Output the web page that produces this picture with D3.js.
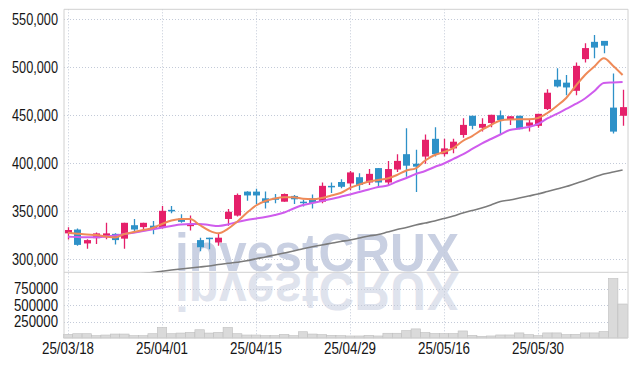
<!DOCTYPE html>
<html>
<head>
<meta charset="utf-8">
<script src="https://cdn.jsdelivr.net/npm/d3@7"></script>
<style>
  body { margin: 0; background: #fff; }
  text { font-family: 'Liberation Sans Narrow', 'Liberation Sans', sans-serif; }
</style>
</head>
<body>
<div id="container"></div>
<script>
const dates = [
  '25/03/18','25/03/19','25/03/20','25/03/21','25/03/24','25/03/25','25/03/26','25/03/27','25/03/28','25/03/31',
  '25/04/01','25/04/02','25/04/03','25/04/04','25/04/07','25/04/08','25/04/09','25/04/10','25/04/11','25/04/14',
  '25/04/15','25/04/16','25/04/17','25/04/18','25/04/21','25/04/22','25/04/23','25/04/24','25/04/25','25/04/28',
  '25/04/29','25/04/30','25/05/02','25/05/07','25/05/08','25/05/09','25/05/12','25/05/13','25/05/14','25/05/15',
  '25/05/16','25/05/19','25/05/20','25/05/21','25/05/22','25/05/23','25/05/26','25/05/27','25/05/28','25/05/29',
  '25/05/30','25/06/02','25/06/04','25/06/05','25/06/09','25/06/10','25/06/11','25/06/12','25/06/13','25/06/16'
];
const open = [
  327000, 331000, 316500, 322000, 323000, 326500, 321500, 335500, 333500, 335000,
  332500, 351500, 342500, 334500, 320000, 322500, 317500, 342000, 345500, 370500,
  370500, 363500, 364000, 360000, 366000, 360000, 363500, 360000, 376500, 380500,
  379000, 385500, 380000, 395000, 380000, 393500, 409500, 399500, 407000, 425500,
  409500, 415500, 429500, 449500, 437000, 442000, 450000, 445500, 449500, 439000,
  439000, 456500, 487000, 484000, 475500, 508500, 526500, 527500, 458000, 449500
];
const high = [
  333300, 332000, 321000, 328000, 338000, 327000, 338000, 342000, 338000, 340000,
  355500, 355500, 347000, 345500, 322500, 322500, 327500, 352500, 368500, 371000,
  373500, 370500, 368000, 368500, 367000, 362000, 367500, 380000, 380000, 383500,
  392000, 389500, 394000, 395000, 402500, 409500, 436500, 414000, 430000, 437500,
  425500, 425500, 447000, 449500, 447000, 450500, 455000, 449000, 449500, 445000,
  451500, 477000, 499000, 492000, 505000, 525000, 533500, 527500, 493500, 476500
];
const low = [
  320500, 314000, 311000, 316000, 321000, 315500, 311000, 328000, 329500, 326000,
  332000, 348000, 338000, 330000, 308500, 310500, 314000, 335000, 344500, 361000,
  357500, 353000, 358500, 360000, 357500, 355000, 353000, 358500, 369000, 374000,
  372000, 372000, 377500, 375500, 377500, 391000, 386000, 370000, 399500, 407000,
  407000, 410500, 426500, 435500, 433000, 437500, 429500, 440000, 435500, 433000,
  437000, 455500, 479000, 471000, 471000, 505000, 509500, 514500, 431000, 439000
];
const close = [
  330500, 315000, 320000, 327000, 327000, 320000, 338000, 331000, 338000, 332500,
  350500, 350000, 339000, 337000, 312500, 321000, 322500, 349500, 367000, 366500,
  366500, 359000, 362000, 368000, 362500, 358500, 358500, 376500, 375000, 375500,
  390500, 377500, 389000, 380000, 394000, 402500, 397500, 396500, 424500, 409500,
  415500, 422500, 440000, 439000, 441000, 450500, 445000, 449000, 435500, 442500,
  451500, 473500, 480000, 479000, 501500, 520000, 520500, 522500, 433000, 458500
];
const volume = [
  55000, 65000, 65000, 35000, 45000, 60000, 60000, 35000, 35000, 65000,
  160000, 65000, 75000, 85000, 125000, 75000, 85000, 160000, 65000, 45000,
  45000, 35000, 35000, 55000, 35000, 95000, 60000, 51000, 41000, 36000,
  31000, 31000, 41000, 31000, 72000, 72000, 112000, 138000, 82000, 67000,
  67000, 67000, 107000, 41000, 26000, 31000, 46000, 46000, 77000, 51000,
  36000, 77000, 77000, 51000, 56000, 77000, 77000, 97000, 900000, 515000
];
const ma5 = [
  327700, 326700, 325800, 325300, 323700, 322700, 326300, 328400, 330500, 332600,
  336800, 340400, 342000, 342000, 335700, 330000, 327100, 331600, 339200, 348200,
  356000, 360700, 363300, 364600, 364600, 363000, 362500, 363800, 366500, 369100,
  374300, 377900, 381000, 382600, 384200, 387800, 392500, 394800, 402900, 408600,
  411800, 415900, 423200, 428400, 434700, 439900, 444600, 445600, 445800, 445800,
  447200, 452400, 459700, 468000, 480500, 492000, 500800, 509400, 501400, 492000
];
const ma20 = [
  323500, 323200, 322900, 322900, 323700, 324800, 326300, 327700, 329500, 331200,
  333100, 334700, 336200, 336800, 336800, 335700, 334700, 336200, 338800, 340900,
  342500, 344100, 346100, 348700, 352900, 356600, 358600, 360700, 362800, 365200,
  367500, 370100, 372700, 375300, 376900, 381000, 384700, 388800, 392000, 396100,
  399800, 404500, 409200, 414900, 420600, 425300, 430000, 434700, 436200, 437800,
  440900, 446700, 451400, 456600, 461800, 467500, 475300, 483600, 484200, 484700
];
const ma60 = [
  276900, 277900, 279000, 280000, 281000, 282100, 283100, 284100, 285200, 286200,
  287600, 288800, 289900, 290900, 292000, 293000, 294600, 295800, 297000, 298400,
  300500, 302400, 304500, 306600, 308600, 311000, 313100, 314900, 316700, 318500,
  320100, 322200, 324300, 325800, 328400, 331000, 333100, 335700, 337800, 339900,
  342500, 345100, 348200, 350800, 353400, 356600, 360200, 361800, 363800, 365900,
  368000, 370600, 373200, 375800, 379000, 382100, 385700, 388800, 390900, 393000
];
const priceTicks = [300000, 350000, 400000, 450000, 500000, 550000];
const volumeTicks = [250000, 500000, 750000];
const dateTicks = ['25/03/18', '25/04/01', '25/04/15', '25/04/29', '25/05/16', '25/05/30'];

const WIDTH = 637;
const HEIGHT = 366;
const LEFT = 64, RIGHT = 628, TOP = 9.3, SPLIT = 272.3, BOTTOM = 338;

const data = dates.map((d, i) => ({
  date: d, open: open[i], high: high[i], low: low[i], close: close[i],
  volume: volume[i], ma5: ma5[i], ma20: ma20[i], ma60: ma60[i]
}));

const x = d3.scaleBand().domain(dates).range([63.3, 627.3]);
const xc = (d) => x(d) + x.bandwidth() / 2;
const y = d3.scaleLinear().domain([286450, 560400]).range([SPLIT, TOP]);
const yv = d3.scaleLinear().domain([0, 1000000]).range([BOTTOM, 272]);

const UP = '#e5206a';
const DOWN = '#2e91c8';
const GRID = '#c3cad8';

const svg = d3.select('#container').append('svg').attr('width', WIDTH).attr('height', HEIGHT);

svg.append('defs').append('clipPath').attr('id', 'price-clip')
  .append('rect').attr('x', LEFT).attr('y', TOP).attr('width', RIGHT - LEFT).attr('height', SPLIT - TOP);

// watermark + reflection
const wmFont = "'Liberation Sans', Arial, sans-serif";
svg.append('text').attr('x', 175).attr('y', 271).attr('font-size', 54).attr('font-weight', 'bold')
  .attr('textLength', 284).attr('lengthAdjust', 'spacingAndGlyphs')
  .attr('fill', '#c9d0e2').style('font-family', wmFont)
  .text('investCRUX');
svg.append('text').attr('x', 175).attr('y', 271).attr('font-size', 54).attr('font-weight', 'bold')
  .attr('textLength', 284).attr('lengthAdjust', 'spacingAndGlyphs')
  .attr('transform', 'translate(0,544) scale(1,-1)')
  .attr('fill', '#dfe3ed').style('font-family', wmFont)
  .text('investCRUX');

// grid
const grid = svg.append('g').attr('stroke', GRID).attr('stroke-dasharray', '1,2').attr('stroke-width', 1);
grid.selectAll('.hp').data(priceTicks).join('line')
  .attr('x1', LEFT).attr('x2', RIGHT).attr('y1', (d) => Math.round(y(d)) + 0.5).attr('y2', (d) => Math.round(y(d)) + 0.5);
grid.selectAll('.hv').data(volumeTicks).join('line')
  .attr('x1', LEFT).attr('x2', RIGHT).attr('y1', (d) => Math.round(yv(d)) + 0.5).attr('y2', (d) => Math.round(yv(d)) + 0.5);
grid.selectAll('.vd').data(dateTicks).join('line')
  .attr('x1', (d) => Math.round(xc(d)) + 0.5).attr('x2', (d) => Math.round(xc(d)) + 0.5)
  .attr('y1', TOP).attr('y2', BOTTOM);

// volume bars
svg.append('g').selectAll('rect').data(data).join('rect')
  .attr('x', (d) => x(d.date)).attr('width', x.bandwidth())
  .attr('y', (d) => yv(d.volume)).attr('height', (d) => BOTTOM - yv(d.volume))
  .attr('fill', '#dadada').attr('stroke', '#bfbfbf').attr('stroke-width', 0.6);

// frame
const frame = svg.append('g').attr('stroke', '#d0d0d0').attr('fill', 'none');
frame.append('path').attr('d', `M${LEFT},${BOTTOM}V${TOP}H${RIGHT}V${BOTTOM}`);
frame.append('line').attr('x1', LEFT).attr('x2', RIGHT).attr('y1', SPLIT).attr('y2', SPLIT);
frame.append('line').attr('x1', LEFT).attr('x2', RIGHT).attr('y1', BOTTOM).attr('y2', BOTTOM);

const plot = svg.append('g').attr('clip-path', 'url(#price-clip)');

const line = (key) => d3.line().x((d) => xc(d.date)).y((d) => y(d[key])).curve(d3.curveMonotoneX);
plot.append('path').datum(data).attr('d', line('ma60')).attr('fill', 'none').attr('stroke', '#7b7b7b').attr('stroke-width', 1.6);

// candles
const candle = plot.append('g').selectAll('g').data(data).join('g');
candle.append('line')
  .attr('x1', (d) => Math.round(xc(d.date)) + 0.5).attr('x2', (d) => Math.round(xc(d.date)) + 0.5)
  .attr('y1', (d) => y(d.high)).attr('y2', (d) => y(d.low))
  .attr('stroke', (d) => (d.close >= d.open ? UP : DOWN)).attr('stroke-width', 1.3);
candle.append('rect')
  .attr('x', (d) => Math.round(xc(d.date)) - 3).attr('width', 7)
  .attr('y', (d) => y(Math.max(d.open, d.close)))
  .attr('height', (d) => Math.max(1.5, Math.abs(y(d.open) - y(d.close))))
  .attr('fill', (d) => (d.close >= d.open ? UP : DOWN));

plot.append('path').datum(data).attr('d', line('ma20')).attr('fill', 'none').attr('stroke', '#cf5ced').attr('stroke-width', 2);
plot.append('path').datum(data).attr('d', line('ma5')).attr('fill', 'none').attr('stroke', '#ef8a58').attr('stroke-width', 2);

// axis labels (squeezed to the narrow widths of the reference)
const labels = svg.append('g').attr('font-size', 16).attr('fill', '#151515');
labels.selectAll('.py').data(priceTicks).join('text')
  .attr('x', 58).attr('y', (d) => y(d)).attr('dy', '0.36em').attr('text-anchor', 'end')
  .attr('textLength', 46).attr('lengthAdjust', 'spacingAndGlyphs')
  .text((d) => d3.format(',')(d));
labels.selectAll('.vy').data(volumeTicks).join('text')
  .attr('x', 58).attr('y', (d) => yv(d)).attr('dy', '0.36em').attr('text-anchor', 'end')
  .attr('textLength', 44).attr('lengthAdjust', 'spacingAndGlyphs')
  .text((d) => d);
labels.selectAll('.dx').data(dateTicks).join('text')
  .attr('x', (d) => xc(d)).attr('y', 354).attr('text-anchor', 'middle')
  .attr('textLength', 52).attr('lengthAdjust', 'spacingAndGlyphs')
  .text((d) => d);
</script>
</body>
</html>
